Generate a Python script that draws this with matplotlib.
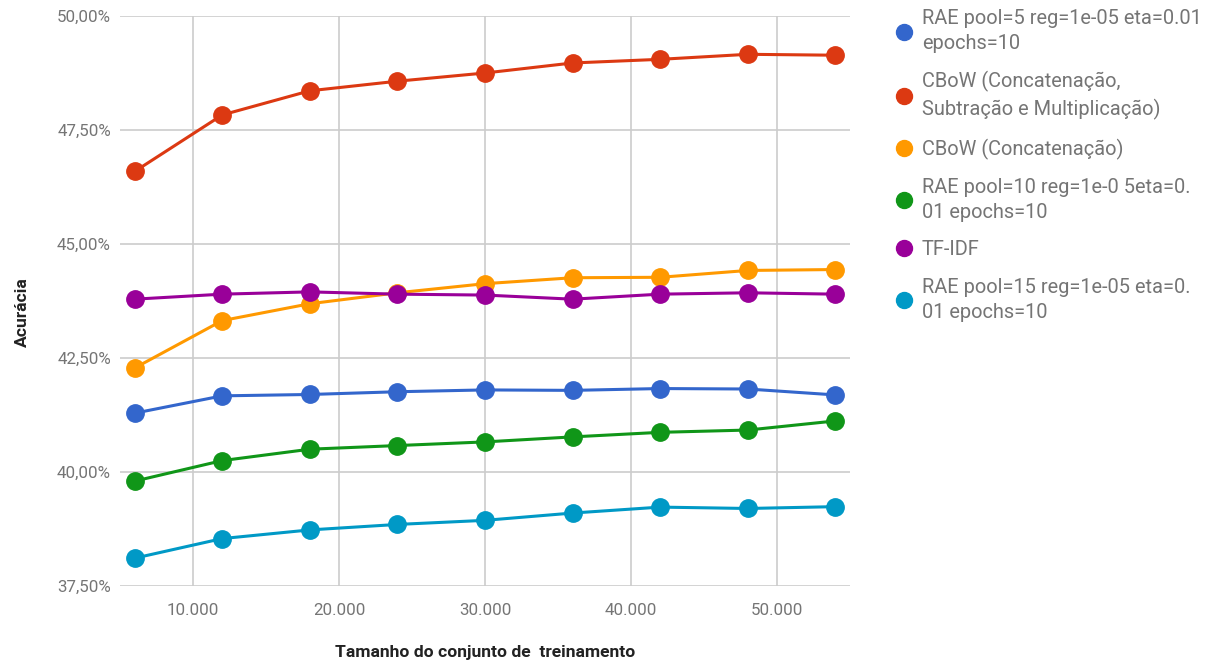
import numpy as np
import matplotlib
matplotlib.use("Agg")
import matplotlib.pyplot as plt
import matplotlib.ticker as ticker

# ── Data ────────────────────────────────────────────────────────────────────
train_sizes = [6000, 12000, 18000, 24000, 30000, 36000, 42000, 48000, 54000]

rae_pool5 = [41.29, 41.67, 41.70, 41.76, 41.80, 41.79, 41.83, 41.82, 41.69]
cbow_csm = [46.59, 47.83, 48.36, 48.57, 48.75, 48.97, 49.05, 49.16, 49.14]
cbow_concat = [42.28, 43.32, 43.69, 43.93, 44.13, 44.26, 44.27, 44.42, 44.44]
rae_pool10 = [39.80, 40.25, 40.50, 40.58, 40.66, 40.77, 40.87, 40.92, 41.12]
tfidf = [43.79, 43.90, 43.95, 43.90, 43.88, 43.79, 43.90, 43.93, 43.90]
rae_pool15 = [38.11, 38.54, 38.73, 38.85, 38.94, 39.10, 39.23, 39.20, 39.24]

series_labels = [
    "RAE pool=5 reg=1e-05 eta=0.01\nepochs=10",
    "CBoW (Concatenação,\nSubtração e Multiplicação)",
    "CBoW (Concatenação)",
    "RAE pool=10 reg=1e-0 5eta=0.\n01 epochs=10",
    "TF-IDF",
    "RAE pool=15 reg=1e-05 eta=0.\n01 epochs=10",
]
series_values = [rae_pool5, cbow_csm, cbow_concat, rae_pool10, tfidf, rae_pool15]

y_ticks = [37.5, 40.0, 42.5, 45.0, 47.5, 50.0]
x_ticks = [10000, 20000, 30000, 40000, 50000]

# ── Colours ─────────────────────────────────────────────────────────────────
COLORS = ["#3366cc", "#dc3912", "#ff9900", "#109618", "#990099", "#0099c6"]
GRID_CLR = "#cccccc"
TICK_CLR = "#757575"
LABEL_CLR = "#222222"

plt.rcParams.update({
    "font.family": ["Roboto", "DejaVu Sans"],
})


def main():
    fig = plt.figure(figsize=(12.08, 6.63), dpi=100)
    ax = fig.add_axes([120 / 1208, 1 - 586 / 663, 730 / 1208, 570 / 663])

    for vals, lab, col in zip(series_values, series_labels, COLORS):
        ax.plot(train_sizes, vals, color=col, linewidth=2.2, marker="o",
                markersize=12.5, label=lab, zorder=3)

    ax.set_xlim(5000, 55000)
    ax.set_ylim(37.5, 50.0)
    ax.set_xticks(x_ticks)
    ax.set_yticks(y_ticks)
    ax.xaxis.set_major_formatter(ticker.FuncFormatter(
        lambda v, p: f"{int(v):,}".replace(",", ".")))
    ax.yaxis.set_major_formatter(ticker.FuncFormatter(
        lambda v, p: f"{v:.2f}%".replace(".", ",")))

    ax.grid(True, color=GRID_CLR, linewidth=1.2)
    ax.set_axisbelow(True)
    for s in ax.spines.values():
        s.set_visible(False)
    ax.tick_params(length=0, labelsize=12.2, labelcolor=TICK_CLR)
    ax.tick_params(axis="x", pad=12)
    ax.tick_params(axis="y", pad=6.5)

    # axis titles placed in figure pixels like the reference
    fig.text(485 / 1208, 1 - 652 / 663, "Tamanho do conjunto de  treinamento",
             fontsize=12.6, fontweight="bold", color=LABEL_CLR,
             ha="center", va="center")
    fig.text(22 / 1208, 1 - 312 / 663, "Acurácia", fontsize=12.6,
             fontweight="bold", color=LABEL_CLR, rotation=90,
             ha="center", va="center")

    leg = ax.legend(loc="upper left", bbox_to_anchor=(889 / 1208, 1 - 1 / 663),
                    bbox_transform=fig.transFigure, frameon=False,
                    fontsize=14.4, labelcolor=TICK_CLR, handlelength=0.7,
                    handletextpad=0.55, labelspacing=0.92, borderaxespad=0)
    for line in leg.get_lines():
        line.set_linestyle("none")
        line.set_markersize(11.5)
    for t in leg.get_texts():
        t.set_linespacing(1.4)

    fig.savefig("out.png", dpi=100)
    plt.close(fig)


if __name__ == "__main__":
    main()
